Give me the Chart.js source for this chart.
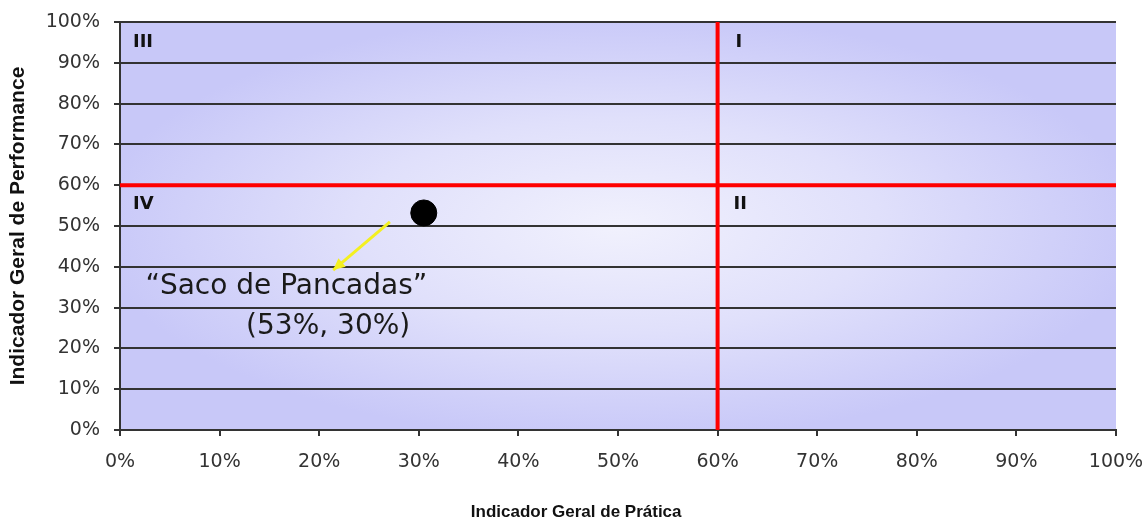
<!DOCTYPE html>
<html>
<head>
<meta charset="utf-8">
<script src="https://cdn.jsdelivr.net/npm/chart.js@4.4.1/dist/chart.umd.min.js"></script>
<style>
  html, body { margin: 0; padding: 0; background: #ffffff; }
  #wrap { width: 1148px; height: 526px; }
</style>
</head>
<body>
<div id="wrap"><canvas id="matrixChart"></canvas></div>
<script>
// axis range and ticks (percent)
const axisMin = 0;
const axisMax = 100;
const tickStep = 10;

// the single company point
const pointX = [30.5];
const pointY = [53.2];

// quadrant thresholds
const thresholdX = 60;
const thresholdY = 60;

// yellow arrow: tail -> tip
const arrowX = [27.1, 21.4];
const arrowY = [51.0, 39.2];

// quadrant labels
const quadLabels = ['III', 'I', 'IV', 'II'];
const quadX = [1.3, 61.8, 1.3, 61.6];
const quadY = [95.0, 95.0, 55.2, 55.2];

// annotation text
const noteLines = ['\u201CSaco de Pancadas\u201D', '(53%, 30%)'];
const noteX = [16.7, 20.9];
const noteY = [35.0, 25.2];

// x axis title (drawn a bit left of centre, as in the original)
const xTitle = 'Indicador Geral de Prática';
const xTitleAt = 45.8;

const gridColor = '#333333';

const quadBackground = {
  id: 'quadBackground',
  beforeDraw(chart) {
    const { ctx, chartArea: a } = chart;
    const cx = (a.left + a.right) / 2;
    const cy = (a.top + a.bottom) / 2;
    ctx.save();
    ctx.beginPath();
    ctx.rect(a.left, a.top, a.right - a.left, a.bottom - a.top);
    ctx.clip();
    ctx.translate(cx, cy);
    ctx.scale((a.right - a.left) / 2, (a.bottom - a.top) / 2);
    const g = ctx.createRadialGradient(0, 0, 0, 0, 0, 1.05);
    g.addColorStop(0, '#f1f1fd');
    g.addColorStop(0.5, '#e0e0fb');
    g.addColorStop(1, '#c8c8f8');
    ctx.fillStyle = g;
    ctx.fillRect(-1.5, -1.5, 3, 3);
    ctx.restore();
  }
};

const overlayText = {
  id: 'overlayText',
  afterDatasetsDraw(chart) {
    const { ctx, scales: { x, y } } = chart;
    ctx.save();

    // arrowhead at the tip of the yellow arrow
    const tx = x.getPixelForValue(arrowX[1]);
    const ty = y.getPixelForValue(arrowY[1]);
    const sx = x.getPixelForValue(arrowX[0]);
    const sy = y.getPixelForValue(arrowY[0]);
    const ang = Math.atan2(ty - sy, tx - sx);
    const len = 13, half = 0.45;
    ctx.fillStyle = '#f4f020';
    ctx.beginPath();
    ctx.moveTo(tx, ty);
    ctx.lineTo(tx - len * Math.cos(ang - half), ty - len * Math.sin(ang - half));
    ctx.lineTo(tx - len * Math.cos(ang + half), ty - len * Math.sin(ang + half));
    ctx.closePath();
    ctx.fill();

    // quadrant labels
    ctx.fillStyle = '#111111';
    ctx.font = 'bold 18px "DejaVu Sans", Verdana, sans-serif';
    ctx.textAlign = 'left';
    ctx.textBaseline = 'middle';
    quadLabels.forEach((t, i) => {
      ctx.fillText(t, x.getPixelForValue(quadX[i]), y.getPixelForValue(quadY[i]));
    });

    // annotation
    ctx.fillStyle = '#1a1a1a';
    ctx.font = '28px "DejaVu Sans", Verdana, sans-serif';
    ctx.textAlign = 'center';
    noteLines.forEach((t, i) => {
      ctx.fillText(t, x.getPixelForValue(noteX[i]), y.getPixelForValue(noteY[i]));
    });

    // x axis title
    ctx.fillStyle = '#111111';
    ctx.font = 'bold 17px "Liberation Sans Narrow", "Liberation Sans", Arial, sans-serif';
    ctx.fillText(xTitle, x.getPixelForValue(xTitleAt), x.bottom - 14);
    ctx.restore();
  }
};

new Chart(document.getElementById('matrixChart'), {
  type: 'scatter',
  data: {
    datasets: [
      {
        label: 'Empresa',
        data: pointX.map((v, i) => ({ x: v, y: pointY[i] })),
        backgroundColor: '#000000',
        borderColor: '#000000',
        pointRadius: 13,
        order: 0
      },
      {
        label: 'Limite Prática',
        type: 'line',
        data: [{ x: thresholdX, y: axisMin }, { x: thresholdX, y: axisMax }],
        borderColor: '#ff0000',
        borderWidth: 4,
        pointRadius: 0,
        clip: false,
        order: 2
      },
      {
        label: 'Limite Performance',
        type: 'line',
        data: [{ x: axisMin, y: thresholdY }, { x: axisMax, y: thresholdY }],
        borderColor: '#ff0000',
        borderWidth: 4,
        pointRadius: 0,
        order: 2
      },
      {
        label: 'Seta',
        type: 'line',
        data: arrowX.map((v, i) => ({ x: v, y: arrowY[i] })),
        borderColor: '#f4f020',
        borderWidth: 3,
        pointRadius: 0,
        order: 1
      }
    ]
  },
  options: {
    responsive: true,
    maintainAspectRatio: false,
    animation: false,
    events: [],
    layout: { padding: { top: 22, right: 32, left: 0, bottom: 0 } },
    plugins: {
      legend: { display: false },
      tooltip: { enabled: false }
    },
    scales: {
      x: {
        type: 'linear',
        min: axisMin,
        max: axisMax,
        afterFit: (s) => { s.height = 96; s.paddingLeft = 0; s.paddingRight = 0; },
        ticks: {
          stepSize: tickStep,
          padding: 15,
          color: '#333333',
          font: { family: '"DejaVu Sans", Verdana, sans-serif', size: 19 },
          callback: (v) => v + '%'
        },
        grid: { drawOnChartArea: false, drawTicks: true, tickLength: 6, color: gridColor, lineWidth: 2 },
        border: { display: true, color: gridColor, width: 2 }
      },
      y: {
        type: 'linear',
        min: axisMin,
        max: axisMax,
        afterFit: (s) => { s.width = 120; s.paddingTop = 0; s.paddingBottom = 0; },
        ticks: {
          stepSize: tickStep,
          padding: 14,
          color: '#333333',
          font: { family: '"DejaVu Sans", Verdana, sans-serif', size: 19 },
          callback: (v) => v + '%'
        },
        grid: { color: gridColor, lineWidth: 2, drawTicks: true, tickLength: 6 },
        border: { display: true, color: gridColor, width: 2 },
        title: {
          display: true,
          text: 'Indicador Geral de Performance',
          color: '#111111',
          font: { family: '"Liberation Sans", Arial, sans-serif', size: 21, weight: 'bold' },
          padding: { top: 6, bottom: 0 }
        }
      }
    }
  },
  plugins: [quadBackground, overlayText]
});
</script>
</body>
</html>
